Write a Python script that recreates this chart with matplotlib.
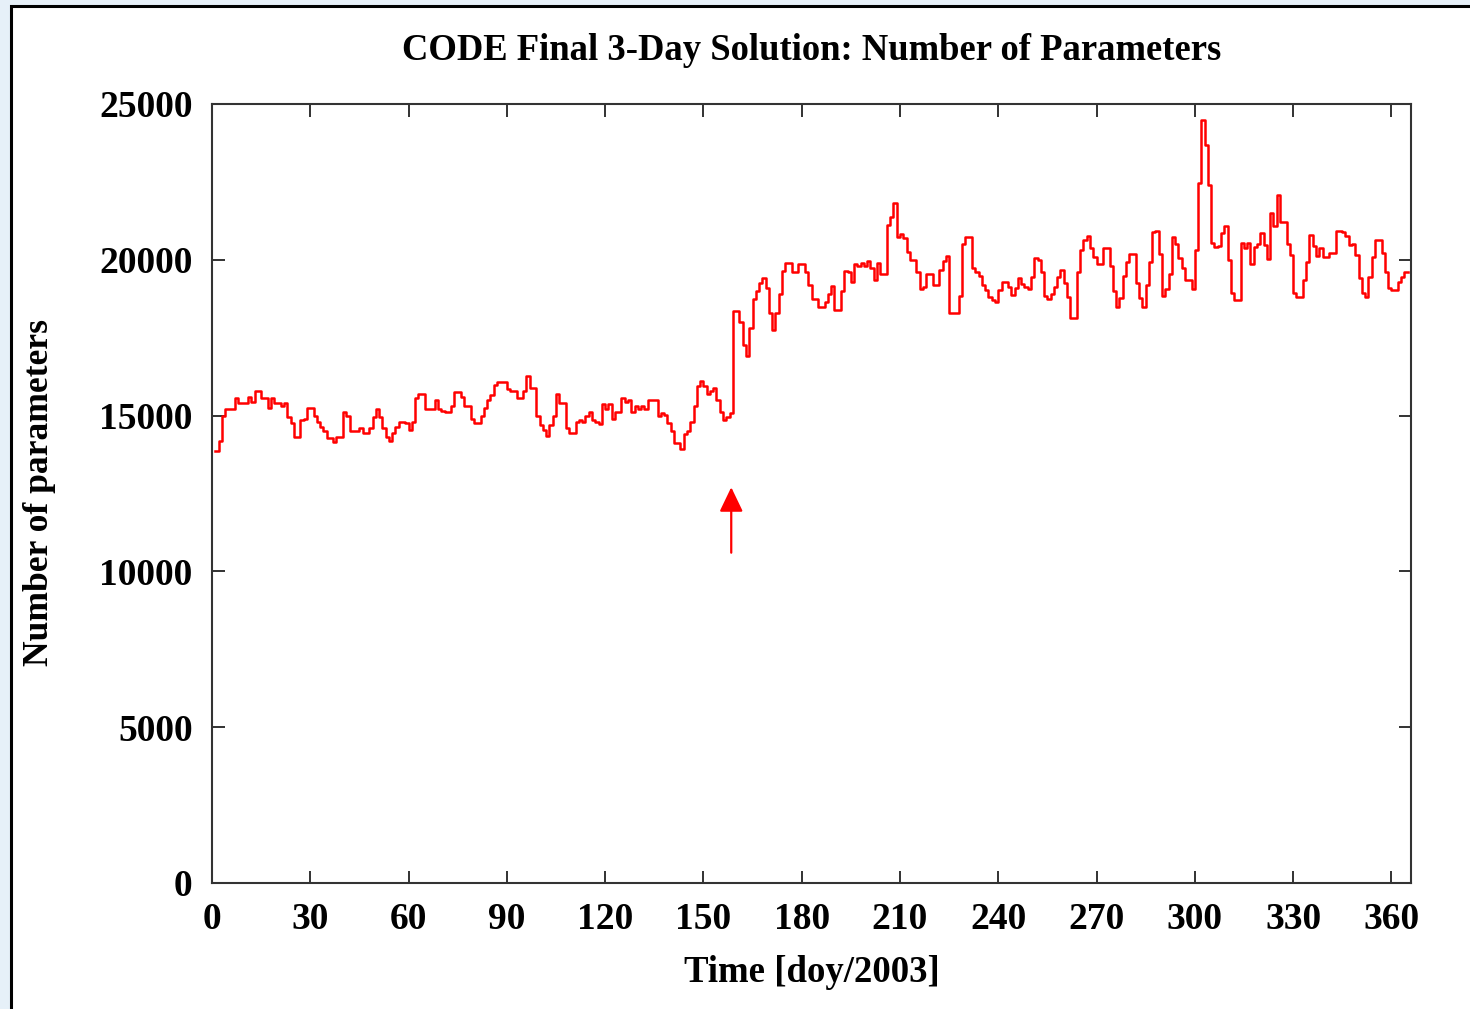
import matplotlib
matplotlib.use('Agg')
import matplotlib.pyplot as plt
from matplotlib.patches import Rectangle

# daily number of parameters (thousands), doy 1..365
params_k = [
  13.86, 14.2, 15.0, 15.2, 15.2, 15.2, 15.55, 15.4, 15.4, 15.4,
  15.6, 15.45, 15.8, 15.8, 15.55, 15.55, 15.25, 15.55, 15.4, 15.4,
  15.3, 15.4, 14.95, 14.75, 14.3, 14.3, 14.85, 14.9, 15.25, 15.25,
  15.0, 14.8, 14.65, 14.5, 14.27, 14.27, 14.15, 14.3, 14.3, 15.1,
  15.0, 14.5, 14.52, 14.52, 14.6, 14.45, 14.45, 14.6, 14.95, 15.2,
  14.95, 14.6, 14.3, 14.2, 14.45, 14.65, 14.8, 14.8, 14.75, 14.55,
  14.8, 15.55, 15.7, 15.7, 15.2, 15.2, 15.2, 15.5, 15.2, 15.15,
  15.1, 15.1, 15.3, 15.75, 15.75, 15.6, 15.3, 15.3, 14.9, 14.75,
  14.75, 15.0, 15.25, 15.5, 15.65, 15.98, 16.07, 16.07, 16.07, 15.85,
  15.8, 15.8, 15.55, 15.55, 15.8, 16.27, 15.9, 15.9, 15.0, 14.7,
  14.54, 14.35, 14.7, 15.0, 15.7, 15.4, 15.4, 14.6, 14.44, 14.44,
  14.78, 14.85, 14.78, 15.0, 15.1, 14.85, 14.8, 14.73, 15.37, 15.2,
  15.37, 14.9, 15.1, 15.1, 15.57, 15.45, 15.5, 15.1, 15.3, 15.2,
  15.3, 15.2, 15.5, 15.5, 15.5, 14.98, 15.08, 15.03, 14.75, 14.5,
  14.12, 14.12, 13.93, 14.4, 14.5, 14.8, 15.3, 15.95, 16.12, 15.95,
  15.7, 15.78, 15.9, 15.5, 15.1, 14.87, 14.95, 15.07, 18.36, 18.36,
  18.0, 17.26, 16.9, 17.8, 18.74, 19.0, 19.25, 19.42, 19.1, 18.3,
  17.75, 18.3, 18.9, 19.64, 19.9, 19.9, 19.6, 19.6, 19.85, 19.85,
  19.6, 19.2, 18.74, 18.74, 18.5, 18.5, 18.65, 18.9, 19.16, 18.4,
  18.4, 19.0, 19.65, 19.6, 19.3, 19.86, 19.8, 19.9, 19.8, 19.95,
  19.75, 19.35, 19.9, 19.55, 19.55, 21.12, 21.38, 21.83, 20.74, 20.82,
  20.7, 20.26, 20.0, 20.0, 19.62, 19.05, 19.12, 19.55, 19.55, 19.19,
  19.19, 19.67, 19.97, 20.12, 18.3, 18.3, 18.3, 18.83, 20.5, 20.74,
  20.74, 19.73, 19.6, 19.48, 19.2, 19.03, 18.8, 18.7, 18.66, 19.03,
  19.3, 19.3, 19.14, 18.87, 19.08, 19.4, 19.22, 19.14, 19.05, 19.44,
  20.05, 20.0, 19.62, 18.83, 18.75, 18.9, 19.14, 19.45, 19.67, 19.25,
  18.82, 18.12, 18.12, 19.6, 20.31, 20.65, 20.76, 20.37, 20.1, 19.86,
  19.86, 20.37, 20.37, 19.8, 19.0, 18.5, 18.76, 19.48, 19.93, 20.18,
  20.18, 19.27, 18.76, 18.48, 19.2, 19.94, 20.9, 20.93, 20.18, 18.83,
  19.05, 19.55, 20.74, 20.5, 20.05, 19.73, 19.35, 19.35, 19.05, 20.3,
  22.45, 24.49, 23.68, 22.4, 20.53, 20.4, 20.45, 20.87, 21.1, 20.0,
  18.92, 18.7, 18.7, 20.55, 20.37, 20.55, 19.86, 20.41, 20.5, 20.87,
  20.47, 20.04, 21.49, 21.1, 22.07, 21.2, 21.2, 20.5, 20.15, 18.92,
  18.8, 18.8, 19.35, 19.93, 20.8, 20.43, 20.13, 20.37, 20.1, 20.08,
  20.22, 20.22, 20.93, 20.93, 20.9, 20.76, 20.47, 20.5, 20.15, 19.4,
  18.95, 18.82, 19.45, 20.1, 20.65, 20.65, 20.23, 19.6, 19.09, 19.03,
  19.03, 19.3, 19.45, 19.6, 19.6,
]
doy = list(range(1, len(params_k) + 1))
params = [v * 1000 for v in params_k]

x_ticks = list(range(0, 361, 30))
y_ticks = list(range(0, 25001, 5000))
arrow_doy = 158.5
arrow_from, arrow_to = 10600, 12700

W, H = 1470, 1009
plt.rcParams['font.family'] = ['Liberation Serif', 'DejaVu Serif']
plt.rcParams['font.weight'] = 'bold'

fig = plt.figure(figsize=(W / 100, H / 100), dpi=100)
# page background + white framed panel
fig.patches.append(Rectangle((0, 0), 1, 1, transform=fig.transFigure,
                             facecolor='#e6f0f8', edgecolor='none', zorder=-10))
fig.patches.append(Rectangle((11 / W, -0.01), 1.0, 1 - 6 / H + 0.01, transform=fig.transFigure,
                             facecolor='white', edgecolor='black', lw=2.2, zorder=-9))

ax = fig.add_axes([212 / W, 1 - 883 / H, (1411 - 212) / W, (883 - 104) / H])
ax.step(doy, params, where='post', color='red', lw=1.8)
ax.annotate('', xy=(arrow_doy, arrow_to), xytext=(arrow_doy, arrow_from),
            arrowprops=dict(arrowstyle='-|>,head_length=0.75,head_width=0.36',
                            mutation_scale=20, color='red', lw=1.6,
                            shrinkA=0, shrinkB=0))

ax.set_xlim(0, 366)
ax.set_ylim(0, 25000)
ax.set_xticks(x_ticks)
ax.set_yticks(y_ticks)
ax.tick_params(direction='in', length=9, width=1.3, color='#222222',
               top=True, right=True, labelsize=27, pad=14)
for lab in ax.get_xticklabels() + ax.get_yticklabels():
  lab.set_fontweight('bold')
for s in ax.spines.values():
  s.set_linewidth(1.5)
  s.set_color('#333333')

fig.text(812 / W, 1 - 50 / H, 'CODE Final 3-Day Solution: Number of Parameters',
         ha='center', va='center', fontsize=26.4, fontweight='bold')
fig.text(812 / W, 1 - 972 / H, 'Time [doy/2003]',
         ha='center', va='center', fontsize=26.5, fontweight='bold')
fig.text(40 / W, 1 - 492 / H, 'Number of parameters', rotation=90,
         ha='center', va='center', fontsize=25.6, fontweight='bold')

fig.savefig('out.png', dpi=100)
